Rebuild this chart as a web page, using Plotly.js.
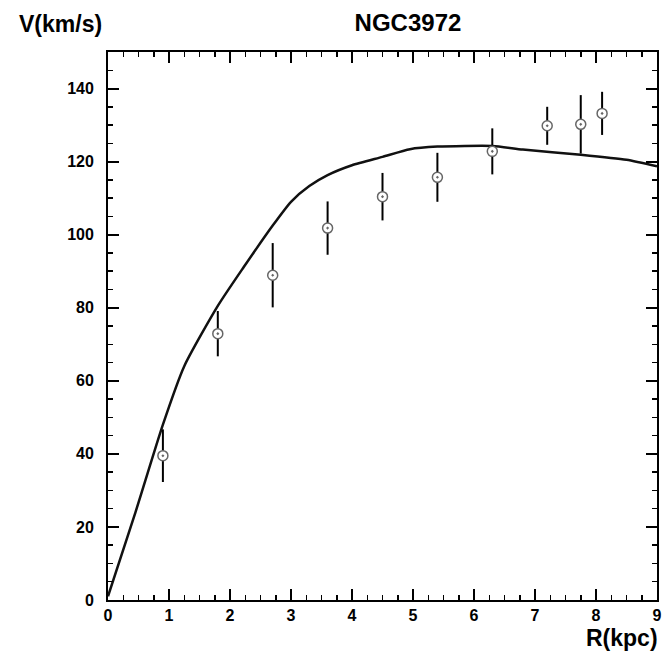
<!DOCTYPE html>
<html>
<head>
<meta charset="utf-8">
<script src="https://cdn.plot.ly/plotly-3.0.1.min.js"></script>
<style>
html,body{margin:0;padding:0;background:#fff;}
#wrap{position:relative;width:665px;height:657px;overflow:hidden;}
#chart{width:665px;height:657px;}
#test{position:absolute;left:-4000px;top:0;width:665px;height:657px;}
.ov{position:absolute;font-family:"Liberation Sans",Arial,sans-serif;font-weight:bold;color:#000;line-height:1;white-space:nowrap;}
</style>
</head>
<body>
<div id="wrap"><div id="chart"></div></div>
<div id="test"></div>
<script>
// Observed rotation curve data
const obsR = [0.9, 1.8, 2.7, 3.6, 4.5, 5.4, 6.3, 7.2, 7.75, 8.1];
const obsV = [39.5, 72.9, 88.9, 101.8, 110.4, 115.7, 122.8, 129.8, 130.2, 133.2];
const obsErr = [7.2, 6.2, 8.8, 7.3, 6.5, 6.7, 6.3, 5.2, 8.0, 5.9];

// Model curve
const modelR = [0, 0.45, 0.9, 1.25, 1.8, 2.22, 2.7, 3.0, 3.3, 3.6, 4.0, 4.5, 4.95, 5.4, 6.3, 6.8, 7.75, 8.5, 9.0];
const modelV = [1, 24, 48, 64, 80.5, 91, 102.5, 109, 113.3, 116.3, 119, 121.3, 123.4, 124.1, 124.3, 123.3, 121.9, 120.5, 118.7];

// Axis settings
const xRange = [0, 9];
const yRange = [0, 150];
const xTickStep = 1, xMinorStep = 0.25;
const yTickStep = 20, yMinorStep = 5;

// Texts
const titleText = 'NGC3972';
const yTitleText = 'V(km/s)';
const xTitleText = 'R(kpc)';

const FONT = "Liberation Sans, Arial, sans-serif";
const W = 665, H = 657, M = {l: 108, r: 8, t: 52, b: 57};
const PW = W - M.l - M.r, PH = H - M.t - M.b;

function tickShapes(minorOnly) {
  const shapes = [];
  const addX = (v, len, w) => {
    shapes.push({type: 'line', xref: 'x', yref: 'paper', x0: v, x1: v, y0: 0, y1: len / PH, line: {color: '#000', width: w}});
    shapes.push({type: 'line', xref: 'x', yref: 'paper', x0: v, x1: v, y0: 1, y1: 1 - len / PH, line: {color: '#000', width: w}});
  };
  const addY = (v, len, w) => {
    shapes.push({type: 'line', xref: 'paper', yref: 'y', x0: 0, x1: len / PW, y0: v, y1: v, line: {color: '#000', width: w}});
    shapes.push({type: 'line', xref: 'paper', yref: 'y', x0: 1, x1: 1 - len / PW, y0: v, y1: v, line: {color: '#000', width: w}});
  };
  const nx = Math.round((xRange[1] - xRange[0]) / xMinorStep);
  const perX = Math.round(xTickStep / xMinorStep);
  for (let k = 1; k < nx; k++) {
    const major = k % perX === 0;
    if (minorOnly && major) continue;
    addX(xRange[0] + k * xMinorStep, major ? 11 : 5, major ? 2 : 1.5);
  }
  const ny = Math.round((yRange[1] - yRange[0]) / yMinorStep);
  const perY = Math.round(yTickStep / yMinorStep);
  for (let k = 1; k < ny; k++) {
    const major = k % perY === 0;
    if (minorOnly && major) continue;
    addY(yRange[0] + k * yMinorStep, major ? 11 : 5, major ? 2 : 1.5);
  }
  return shapes;
}

function buildFigure(o) {
  const data = [];
  data.push({
    x: modelR, y: modelV, mode: 'lines',
    line: {color: '#111', width: 2.5, shape: o.noSpline ? 'linear' : 'spline', smoothing: 0.6}
  });
  if (o.noErr) {
    const ex = [], ey = [];
    obsR.forEach((r, i) => { ex.push(r, r, null); ey.push(obsV[i] - obsErr[i], obsV[i] + obsErr[i], null); });
    data.push({x: ex, y: ey, mode: 'lines', line: {color: '#000', width: 2}});
  }
  const pts = {
    x: obsR, y: obsV, mode: 'markers',
    marker: {symbol: o.plainMarker ? 'circle' : 'circle-dot', size: 10, color: '#fff', line: {color: '#666', width: 1.5}}
  };
  if (!o.noErr) pts.error_y = {type: 'data', array: obsErr, visible: true, color: '#000', thickness: 2, width: 0};
  data.push(pts);

  const axisCommon = {
    showgrid: false, zeroline: false,
    showline: true, linecolor: '#000', linewidth: 2, mirror: 'allticks',
    ticks: o.shapeTicks === 'all' ? '' : 'inside', ticklen: 11, tickwidth: 2, tickcolor: '#000',
    tickfont: {family: FONT, size: 16, color: '#000', weight: 'bold'}
  };
  const xa = Object.assign({}, axisCommon, {range: xRange, tickmode: 'linear', tick0: 0, dtick: xTickStep});
  const ya = Object.assign({}, axisCommon, {range: yRange, tickmode: 'linear', tick0: 0, dtick: yTickStep});
  if (!o.noSuffix) ya.ticksuffix = '\u00a0\u00a0';
  if (!o.noMinor && !o.shapeTicks) {
    xa.minor = {dtick: xMinorStep, ticks: 'inside', ticklen: 5, tickwidth: 1.5, tickcolor: '#000'};
    ya.minor = {dtick: yMinorStep, ticks: 'inside', ticklen: 5, tickwidth: 1.5, tickcolor: '#000'};
  }
  const layout = {
    width: W, height: H, showlegend: false, margin: M,
    xaxis: xa, yaxis: ya
  };
  if (!o.noTitle) {
    layout.title = {
      text: '<b>' + titleText + '</b>',
      font: {family: FONT, size: 24, color: '#000'},
      x: 0.6135, xanchor: 'center', xref: 'container',
      y: 0.966, yanchor: 'middle', yref: 'container'
    };
  }
  if (!o.noAnn) {
    layout.annotations = [
      {text: '<b>' + yTitleText + '</b>', xref: 'paper', yref: 'paper', x: -0.165, y: 1.0 + 28 / PH,
       xanchor: 'left', yanchor: 'middle', showarrow: false, font: {family: FONT, size: 23, color: '#000'}},
      {text: '<b>' + xTitleText + '</b>', xref: 'paper', yref: 'paper', x: 1.005, y: -0.042,
       xanchor: 'right', yanchor: 'top', showarrow: false, font: {family: FONT, size: 23, color: '#000'}}
    ];
  }
  if (o.shapeTicks === 'all') layout.shapes = tickShapes(false);
  else if (o.shapeTicks === 'minor' || o.noMinor) layout.shapes = tickShapes(true);
  return {data, layout};
}

function addOverlays(o) {
  const wrap = document.getElementById('wrap');
  wrap.querySelectorAll('.ov').forEach(e => e.remove());
  const mk = (txt, css) => { const s = document.createElement('div'); s.className = 'ov'; s.textContent = txt; Object.assign(s.style, css); wrap.appendChild(s); };
  if (o.noTitle) mk(titleText, {left: '408px', top: '22px', fontSize: '24px', transform: 'translate(-50%,-50%)'});
  if (o.noAnn) {
    mk(yTitleText, {left: '18px', top: '24px', fontSize: '23px', transform: 'translate(0,-50%)'});
    mk(xTitleText, {right: '6px', top: '625px', fontSize: '23px'});
  }
}

function goodTicks(gd) {
  return Array.from(gd.querySelectorAll('path.ticks, path.xtick, path.ytick')).filter(p => {
    const d = p.getAttribute('d') || '', t = p.getAttribute('transform') || '';
    if (d.length < 4 || /NaN/.test(d) || /NaN/.test(t)) return false;
    const cs = getComputedStyle(p);
    return parseFloat(cs.strokeWidth) > 0 && cs.display !== 'none' && cs.visibility !== 'hidden' && parseFloat(cs.strokeOpacity || '1') > 0;
  }).length;
}

const wait = ms => new Promise(r => setTimeout(r, ms));

async function render(gd, o) {
  const f = buildFigure(o);
  await Plotly.newPlot(gd, f.data, f.layout, {staticPlot: true});
}

async function main() {
  const gd = document.getElementById('chart');
  const full = {};
  await render(gd, full);
  await wait(60);
  if (goodTicks(gd) > 4) return;

  const test = document.getElementById('test');
  const variants = [
    {noTitle: 1}, {noAnn: 1}, {noErr: 1}, {noSpline: 1}, {plainMarker: 1}, {noSuffix: 1},
    {noTitle: 1, noAnn: 1}, {noTitle: 1, noAnn: 1, noErr: 1},
    {noTitle: 1, noAnn: 1, noErr: 1, noSpline: 1, plainMarker: 1, noSuffix: 1},
    {noMinor: 1}, {noMinor: 1, noTitle: 1, noAnn: 1, noErr: 1}
  ];
  for (const v of variants) {
    try {
      await render(test, v);
      await wait(30);
      if (goodTicks(test) > 4) {
        Plotly.purge(test);
        await render(gd, v);
        addOverlays(v);
        return;
      }
    } catch (e) {}
  }
  try { Plotly.purge(test); } catch (e) {}
  const last = {shapeTicks: 'all'};
  await render(gd, last);
}

main();
</script>
</body>
</html>
